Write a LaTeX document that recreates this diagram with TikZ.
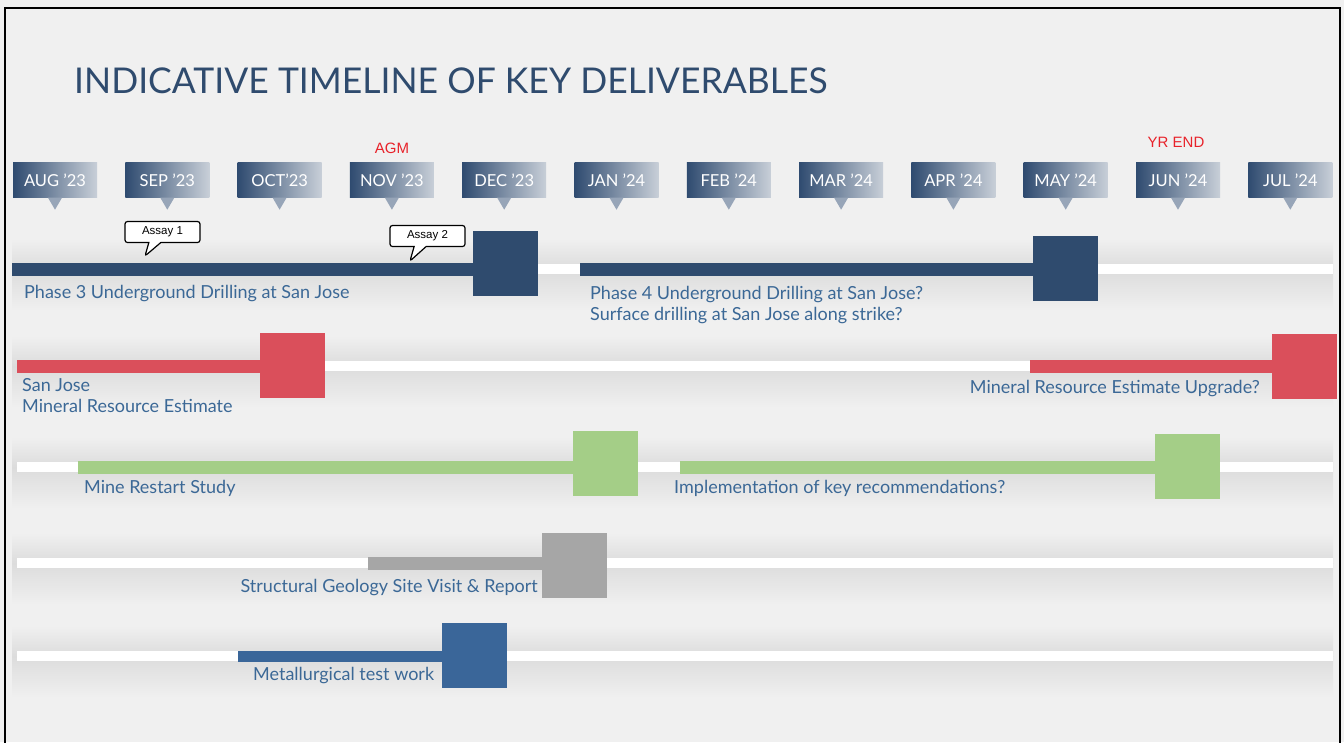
\documentclass[tikz,border=0pt]{standalone}
\usepackage{fontspec}
\setmainfont{Lato}
\newfontfamily\arialfont{Liberation Sans}
\usetikzlibrary{shapes.callouts}
\definecolor{bg}{HTML}{F0F0F0}
\definecolor{halo}{HTML}{DCDCDC}
\definecolor{navy}{HTML}{2F4B6E}
\definecolor{tagdark}{HTML}{2F4B70}
\definecolor{taglight}{HTML}{C8CFD8}
\definecolor{mrered}{HTML}{DA4F5B}
\definecolor{studygreen}{HTML}{A4CE87}
\definecolor{geogray}{HTML}{A6A6A6}
\definecolor{metblue}{HTML}{3A6699}
\definecolor{lblblue}{HTML}{3B6896}
\definecolor{agmred}{HTML}{E8222A}
\begin{document}
\begin{tikzpicture}[x=1pt, y=-1pt,
  month/.style={rectangle, minimum width=84pt, minimum height=35pt, inner sep=0pt,
    shade, shading=axis, left color=tagdark, middle color=tagdark!85!white, right color=taglight,
    text=white, font=\fontsize{16.5}{16.5}\selectfont},
  track/.style={draw=white, line width=10pt},
  bar/.style={line width=13pt},
  blk/.style={rectangle, minimum size=65pt, inner sep=0pt},
  lbl/.style={anchor=base west, inner sep=0pt, text=lblblue, font=\fontsize{18}{21}\selectfont},
  assay/.style={rectangle callout, draw=black, fill=white, line width=1.2pt, rounded corners=2.5pt,
    minimum width=75pt, minimum height=21pt, inner sep=0pt, callout pointer width=12pt,
    font=\arialfont\fontsize{11.5}{11.5}\selectfont},
  event/.style={text=agmred, font=\arialfont\fontsize{15}{15}\selectfont}]
\useasboundingbox (0,0) rectangle (1344,742);
\fill[bg] (0,0) rectangle (1344,742);

% shadows and tracks
\foreach \y in {269,366,467,563,656}{
  \shade[top color=bg, bottom color=halo] (12,\y-30) rectangle (1333,\y);
  \shade[top color=halo, bottom color=bg] (12,\y) rectangle (1333,\y+42);
}
\draw[track] (12,269) -- (1333,269);
\foreach \y in {366,467,563,656}
  \draw[track] (17,\y) -- (1333,\y);

\node[anchor=base west, inner sep=0pt, text=navy, font=\fontsize{35.5}{36}\selectfont] (title) at (74,93) {INDICATIVE TIMELINE OF KEY DELIVERABLES};

% months
\foreach \m [count=\i from 0] in {AUG ’23, SEP ’23, OCT’23, NOV ’23, DEC ’23, JAN ’24, FEB ’24, MAR ’24, APR ’24, MAY ’24, JUN ’24, JUL ’24}{
  \node[month] (m\i) at (55+112.3*\i,180) {\m};
  \fill[tagdark!50!white] ([xshift=-7pt]m\i.south) -- ([xshift=7pt]m\i.south) -- ([yshift=-12pt]m\i.south) -- cycle;
}
\node[event] (agm) at (392,148) {AGM};
\node[event] (yrend) at (1176,142) {YR END};

% row 1
\node[blk, fill=navy] (p3) at (505.5,263) {};
\draw[bar, navy] (12,269) -- (p3.center |- 0,269);
\node[blk, fill=navy] (p4) at (1065.5,268) {};
\draw[bar, navy] (580,269) -- (p4.center |- 0,269);
\node[assay, callout absolute pointer={(145,256)}] (as1) at (162.5,232) {Assay 1};
\node[assay, callout absolute pointer={(410,261)}] (as2) at (427.5,236) {Assay 2};
\node[lbl] (p3l) at (24,298) {Phase 3 Underground Drilling at San Jose};
\node[lbl] (p4l) at (590,299) {Phase 4 Underground Drilling at San Jose?};
\node[lbl] (p4s) at (590,320) {Surface drilling at San Jose along strike?};

% row 2
\node[blk, fill=mrered] (mre) at (292,365.5) {};
\draw[bar, mrered] (17,366) -- (mre.center |- 0,366);
\node[blk, fill=mrered] (mreu) at (1304.5,366.5) {};
\draw[bar, mrered] (1030,366) -- (mreu.center |- 0,366);
\node[lbl] (mrel) at (22,391) {San Jose};
\node[lbl] (mrel2) at (22,412) {Mineral Resource Estimate};
\node[lbl, anchor=base east] (mreul) at (1260,393) {Mineral Resource Estimate Upgrade?};

% row 3
\node[blk, fill=studygreen] (mrs) at (605.5,463.5) {};
\draw[bar, studygreen] (78,467) -- (mrs.center |- 0,467);
\node[blk, fill=studygreen] (imp) at (1187.5,466.5) {};
\draw[bar, studygreen] (680,467) -- (imp.center |- 0,467);
\node[lbl] (mrsl) at (84,493) {Mine Restart Study};
\node[lbl] (impl) at (674,493) {Implementation of key recommendations?};

% row 4
\node[blk, fill=geogray] (geo) at (574.5,565) {};
\draw[bar, geogray] (368,563) -- (geo.center |- 0,563);
\node[lbl, anchor=base east] (geol) at (538,592) {Structural Geology Site Visit \& Report};

% row 5
\node[blk, fill=metblue] (met) at (474.5,655.5) {};
\draw[bar, metblue, line width=11pt] (238,656) -- (met.center |- 0,656);
\node[lbl] (metl) at (253,680) {Metallurgical test work};

\draw[line width=2pt] (5,745) -- (5,8) -- (1340,8) -- (1340,745);
\end{tikzpicture}
\end{document}
